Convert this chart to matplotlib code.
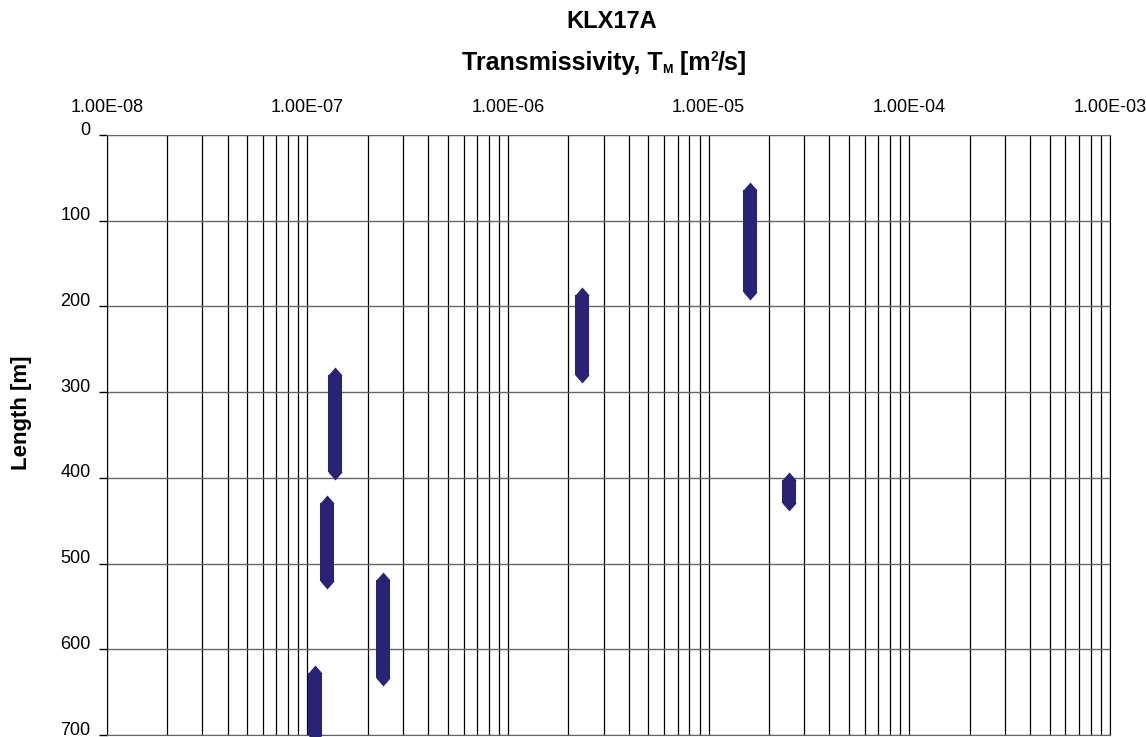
import numpy as np
import matplotlib.pyplot as plt
import matplotlib.transforms as mtransforms
from matplotlib.ticker import LogLocator, FixedLocator, FuncFormatter, NullFormatter

plt.rcParams['font.family'] = ['Liberation Sans', 'DejaVu Sans']

# test sections: transmissivity and borehole length interval
trans = [1.60e-5, 2.33e-6, 1.37e-7, 1.25e-7, 2.37e-7, 2.50e-5, 1.09e-7]
sec_top = [64, 187, 280, 429, 519, 402, 628]
sec_bot = [183, 280, 393, 520, 633, 429, 700]

x_ticks = [1e-8, 1e-7, 1e-6, 1e-5, 1e-4, 1e-3]
y_ticks = [0, 100, 200, 300, 400, 500, 600, 700]

bar_col = '#2A2375'
tip = [(-7, 0), (0, 8), (7, 0), (0, -8)]

fig = plt.figure(figsize=(11.46, 7.37), dpi=100)
ax = fig.add_axes([0.0931, 0.0027, 0.8755, 0.8141])

ax.set_xscale('log')
ax.set_xlim(1e-8, 1e-3)
ax.set_ylim(700, 0)

for t, a, b in zip(trans, sec_top, sec_bot):
    ax.plot([t, t], [a, b], color=bar_col, lw=10.1, solid_capstyle='butt',
            marker=tip, markersize=11.5, markeredgewidth=0,
            markerfacecolor=bar_col, clip_on=False, zorder=3)

# grid
ax.xaxis.set_major_locator(FixedLocator(x_ticks))
ax.xaxis.set_minor_locator(LogLocator(base=10, subs=np.arange(2, 10), numticks=20))
ax.xaxis.set_minor_formatter(NullFormatter())
ax.xaxis.set_major_formatter(FuncFormatter(lambda v, p: f'{v:.2E}'))
ax.set_yticks(y_ticks)
ax.grid(which='major', axis='x', color='black', lw=0.9)
ax.grid(which='minor', axis='x', color='black', lw=0.9)
ax.grid(which='major', axis='y', color='#666666', lw=1.0)
ax.set_axisbelow(True)

ax.xaxis.tick_top()
ax.tick_params(axis='x', which='both', length=0, pad=14, labelsize=13)
ax.tick_params(axis='y', which='major', direction='out', length=6, width=1,
               pad=5.5, labelsize=13)

# y labels sit a little above their gridlines
up = mtransforms.ScaledTranslation(0, 7 / 100, fig.dpi_scale_trans)
for lab in ax.get_yticklabels():
    lab.set_transform(lab.get_transform() + up)

for s in ['top', 'bottom']:
    ax.spines[s].set_color('#666666')
ax.spines['left'].set_color('black')
ax.spines['right'].set_color('black')

fig.text(22 / 1146, 1 - 413 / 737, 'Length [m]', rotation=90, ha='center', va='center',
         fontsize=16, fontweight='bold')

fig.text(612 / 1146, 1 - 21 / 737, 'KLX17A', ha='center', va='center', fontsize=17, fontweight='bold')

# second title line assembled from pieces so the sub/superscripts stay small
renderer = fig.canvas.get_renderer()
y2 = 1 - 63 / 737
pieces = [('Transmissivity, T', 18, 0), ('M', 9, -7), (' [m', 18, 0), ('2', 10, 6), ('/s]', 18, 0)]
widths = []
for s, fs, dy in pieces:
    t = fig.text(0, 0, s, fontsize=fs, fontweight='bold')
    widths.append(t.get_window_extent(renderer).width)
    t.remove()
x = 747 - sum(widths)
for (s, fs, dy), w in zip(pieces, widths):
    fig.text(x / 1146, y2 + dy / 737, s, fontsize=fs, fontweight='bold',
             ha='left', va='center')
    x += w

fig.savefig('out.png', dpi=100)
